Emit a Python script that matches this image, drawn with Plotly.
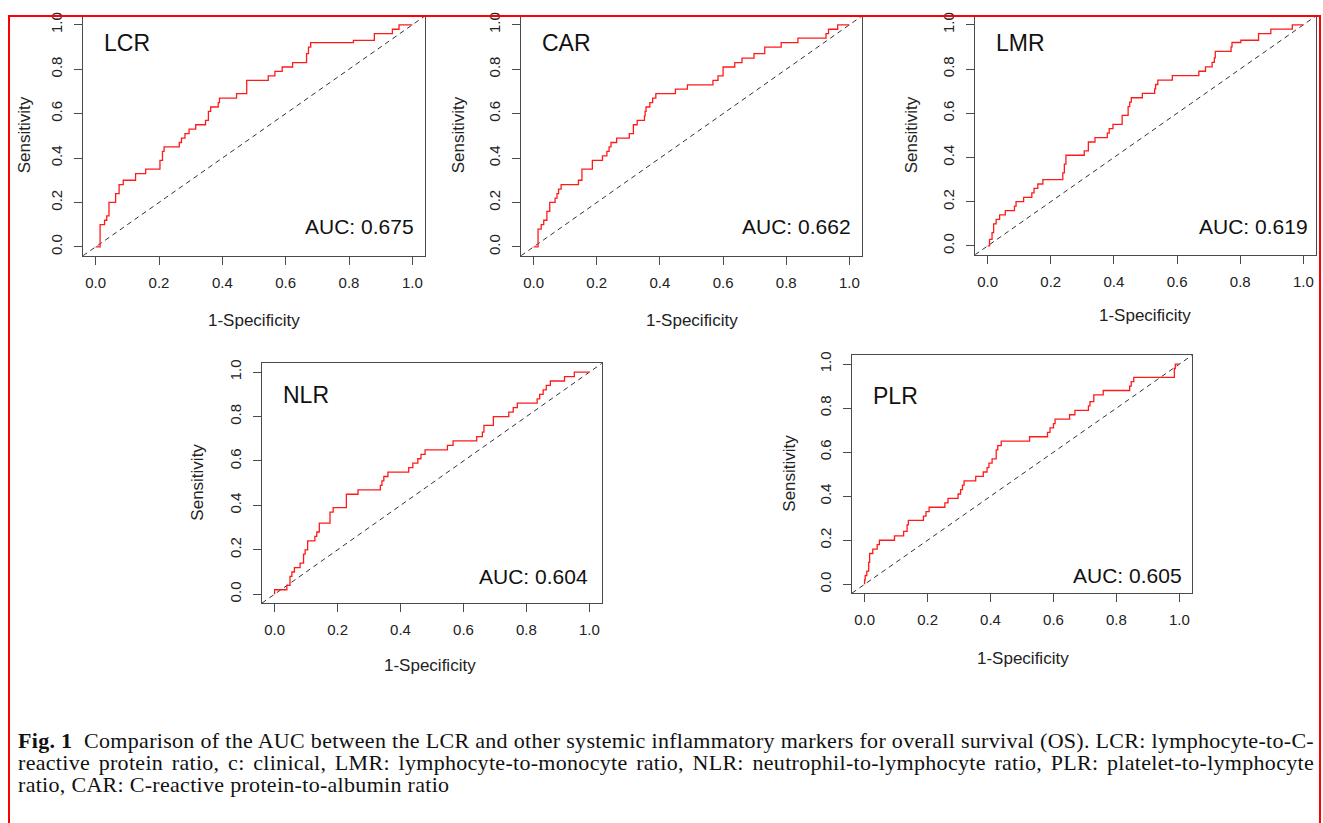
import plotly.graph_objects as go

W, H = 1323, 823

# ---------------- data ----------------
LCR_FPR = [0.0, 0.014, 0.028, 0.035, 0.042, 0.063, 0.074, 0.087, 0.126, 0.158, 0.203, 0.211, 0.216,
           0.264, 0.271, 0.282, 0.295, 0.316, 0.347, 0.356, 0.363, 0.387, 0.391, 0.445, 0.477, 0.545,
           0.566, 0.589, 0.622, 0.666, 0.672, 0.679, 0.814, 0.880, 0.937, 0.958, 1.0]
LCR_TPR = [0.0, 0.10, 0.12, 0.14, 0.20, 0.24, 0.28, 0.30, 0.33, 0.35, 0.39, 0.43, 0.45,
           0.47, 0.49, 0.51, 0.53, 0.55, 0.57, 0.61, 0.63, 0.65, 0.67, 0.69, 0.75, 0.77,
           0.79, 0.81, 0.83, 0.87, 0.90, 0.92, 0.93, 0.96, 0.98, 1.0, 1.0]

CAR_FPR = [0.0, 0.014, 0.024, 0.032, 0.042, 0.051, 0.068, 0.074, 0.079, 0.087, 0.142, 0.153, 0.186,
           0.218, 0.232, 0.239, 0.245, 0.263, 0.303, 0.316, 0.328, 0.351, 0.353, 0.356, 0.368, 0.377,
           0.387, 0.449, 0.487, 0.568, 0.584, 0.600, 0.637, 0.660, 0.698, 0.732, 0.784, 0.837, 0.926,
           0.934, 0.963, 1.0]
CAR_TPR = [0.0, 0.08, 0.10, 0.12, 0.16, 0.20, 0.22, 0.24, 0.26, 0.28, 0.30, 0.35, 0.39,
           0.41, 0.43, 0.45, 0.47, 0.49, 0.51, 0.55, 0.57, 0.59, 0.61, 0.63, 0.65, 0.67,
           0.69, 0.71, 0.73, 0.75, 0.77, 0.81, 0.83, 0.85, 0.87, 0.90, 0.92, 0.94, 0.96,
           0.98, 1.0, 1.0]

LMR_FPR = [0.0, 0.006, 0.014, 0.019, 0.027, 0.038, 0.056, 0.085, 0.090, 0.114, 0.140, 0.147, 0.159,
           0.175, 0.238, 0.243, 0.248, 0.306, 0.319, 0.340, 0.379, 0.385, 0.397, 0.426, 0.445, 0.450,
           0.455, 0.490, 0.529, 0.532, 0.539, 0.585, 0.669, 0.690, 0.711, 0.718, 0.721, 0.771, 0.774,
           0.802, 0.858, 0.897, 0.965, 1.0]
LMR_TPR = [0.0, 0.03, 0.06, 0.10, 0.12, 0.14, 0.16, 0.18, 0.20, 0.22, 0.24, 0.26, 0.28,
           0.30, 0.33, 0.37, 0.41, 0.43, 0.47, 0.49, 0.51, 0.53, 0.55, 0.59, 0.63, 0.65,
           0.67, 0.69, 0.71, 0.73, 0.75, 0.77, 0.79, 0.81, 0.83, 0.85, 0.88, 0.90, 0.92,
           0.93, 0.96, 0.98, 1.0, 1.0]

NLR_FPR = [0.0, 0.0, 0.039, 0.049, 0.055, 0.063, 0.081, 0.092, 0.097, 0.105, 0.128, 0.134, 0.142,
           0.176, 0.186, 0.228, 0.265, 0.336, 0.341, 0.347, 0.360, 0.426, 0.439, 0.455, 0.465,
           0.478, 0.549, 0.567, 0.642, 0.660, 0.665, 0.695, 0.744, 0.758, 0.771, 0.834, 0.842,
           0.853, 0.863, 0.876, 0.921, 0.952, 1.0]
NLR_TPR = [0.0, 0.02, 0.04, 0.08, 0.10, 0.12, 0.14, 0.18, 0.20, 0.24, 0.26, 0.28, 0.32,
           0.37, 0.39, 0.45, 0.47, 0.49, 0.51, 0.53, 0.55, 0.57, 0.59, 0.61, 0.63,
           0.65, 0.67, 0.69, 0.71, 0.73, 0.76, 0.80, 0.82, 0.84, 0.86, 0.88, 0.90,
           0.92, 0.94, 0.96, 0.98, 1.0, 1.0]

PLR_FPR = [0.0, 0.0, 0.002, 0.007, 0.013, 0.016, 0.026, 0.040, 0.047, 0.095, 0.124, 0.135, 0.139,
           0.187, 0.195, 0.205, 0.255, 0.265, 0.297, 0.305, 0.311, 0.316, 0.353, 0.377, 0.389,
           0.395, 0.405, 0.418, 0.423, 0.434, 0.524, 0.581, 0.589, 0.600, 0.605, 0.651, 0.668,
           0.711, 0.716, 0.728, 0.758, 0.842, 0.847, 0.855, 0.984, 0.987, 1.0]
PLR_TPR = [0.0, 0.02, 0.04, 0.06, 0.10, 0.14, 0.16, 0.18, 0.20, 0.22, 0.24, 0.27, 0.29,
           0.31, 0.33, 0.35, 0.37, 0.39, 0.41, 0.43, 0.45, 0.47, 0.49, 0.51, 0.53,
           0.55, 0.57, 0.61, 0.63, 0.65, 0.67, 0.69, 0.71, 0.73, 0.75, 0.77, 0.79,
           0.81, 0.83, 0.86, 0.88, 0.90, 0.92, 0.94, 0.98, 1.0, 1.0]

NAMES = ["LCR", "CAR", "LMR", "NLR", "PLR"]
AUC_VALUES = ["0.675", "0.662", "0.619", "0.604", "0.605"]
TICK_VALUES = [0.0, 0.2, 0.4, 0.6, 0.8, 1.0]
TICK_LABELS = ["0.0", "0.2", "0.4", "0.6", "0.8", "1.0"]
X_TITLE = "1-Specificity"
Y_TITLE = "Sensitivity"
CAPTION_BOLD = "Fig. 1"
CAPTION_LINES = [
    "Comparison of the AUC between the LCR and other systemic inflammatory markers for overall survival (OS). LCR: lymphocyte-to-C-",
    "reactive protein ratio, c: clinical, LMR: lymphocyte-to-monocyte ratio, NLR: neutrophil-to-lymphocyte ratio, PLR: platelet-to-lymphocyte",
    "ratio, CAR: C-reactive protein-to-albumin ratio",
]
CURVES = {"LCR": (LCR_FPR, LCR_TPR), "CAR": (CAR_FPR, CAR_TPR), "LMR": (LMR_FPR, LMR_TPR),
          "NLR": (NLR_FPR, NLR_TPR), "PLR": (PLR_FPR, PLR_TPR)}

# ---------------- layout (pixels) ----------------
AX_RANGE = [-0.04, 1.04]
# plot boxes: left, top, right, bottom (px)
BOXES = {"LCR": (83, 12, 425, 253), "CAR": (521, 12, 862, 253), "LMR": (975, 12, 1316, 252),
         "NLR": (262, 361, 602, 602), "PLR": (852, 353, 1192, 592)}
LABEL_Y = {"LCR": 0.916, "CAR": 0.916, "LMR": 0.916, "NLR": 0.896, "PLR": 0.856}
AUC_POS = {"LCR": (1.013, 0.090), "CAR": (1.013, 0.090), "LMR": (1.022, 0.090),
           "NLR": (1.003, 0.078), "PLR": (1.016, 0.038)}
XTITLE_POS = {"LCR": (254, 318), "CAR": (692, 318), "LMR": (1145, 313), "NLR": (430, 665), "PLR": (1023, 658)}
YTITLE_POS = {"LCR": (24, 132), "CAR": (458, 132), "LMR": (911, 132), "NLR": (198, 481), "PLR": (790, 472)}
CAP_LEFT, CAP_RIGHT = 18, 1314
CAP_Y = [740, 762, 784]


def fx(p):
    return p / W


def fy(p):
    return 1 - p / H


SANS = "Liberation Sans, Arial, sans-serif"
SERIF = "Liberation Serif, Times New Roman, serif"
AXCOL = "#4a4a4a"

fig = go.Figure()
annotations = []

for i, name in enumerate(NAMES, start=1):
    fpr, tpr = CURVES[name]
    xa = "x" if i == 1 else f"x{i}"
    ya = "y" if i == 1 else f"y{i}"
    # diagonal reference line (y = x) across the whole box
    fig.add_trace(go.Scatter(x=AX_RANGE, y=AX_RANGE, mode="lines", xaxis=xa, yaxis=ya,
                             line=dict(color="#333333", width=1, dash="5px,4px"),
                             hoverinfo="skip", showlegend=False))
    fig.add_trace(go.Scatter(x=fpr, y=tpr, mode="lines", xaxis=xa, yaxis=ya, line_shape="hv",
                             line=dict(color="#ff1a1a", width=1.3), showlegend=False, name=name))
    l, t, r, b = BOXES[name]
    common = dict(range=AX_RANGE, showgrid=False, zeroline=False, showline=True, mirror=True,
                  linecolor=AXCOL, linewidth=1, ticks="outside", ticklen=8, tickcolor=AXCOL,
                  tickwidth=1, tickvals=TICK_VALUES, ticktext=TICK_LABELS,
                  tickfont=dict(family=SANS, size=15, color="#222222"), fixedrange=True)
    fig.update_layout(**{
        ("xaxis" if i == 1 else f"xaxis{i}"): dict(domain=[fx(l), fx(r)], anchor=ya,
                                                   ticklabelstandoff=5, **common),
        ("yaxis" if i == 1 else f"yaxis{i}"): dict(domain=[fy(b), fy(t)], anchor=xa, tickangle=-90,
                                                   ticklabelstandoff=6, **common),
    })
    annotations.append(dict(x=0.02, y=LABEL_Y[name], xref=xa, yref=ya, text=name, showarrow=False,
                            xanchor="left", yanchor="middle",
                            font=dict(family=SANS, size=23, color="#111111")))
    ax_, ay_ = AUC_POS[name]
    annotations.append(dict(x=ax_, y=ay_, xref=xa, yref=ya, text=f"AUC: {AUC_VALUES[i-1]}",
                            showarrow=False, xanchor="right", yanchor="middle",
                            font=dict(family=SANS, size=21, color="#111111")))
    tx, ty = XTITLE_POS[name]
    annotations.append(dict(x=fx(tx), y=fy(ty), xref="paper", yref="paper", text=X_TITLE,
                            showarrow=False, xanchor="center", yanchor="middle",
                            font=dict(family=SANS, size=17, color="#222222")))
    sx, sy = YTITLE_POS[name]
    annotations.append(dict(x=fx(sx), y=fy(sy), xref="paper", yref="paper", text=Y_TITLE,
                            showarrow=False, xanchor="center", yanchor="middle", textangle=-90,
                            font=dict(family=SANS, size=17, color="#222222")))

# caption (three lines; the first two are justified in the browser below)
cap_texts = [f"<b>{CAPTION_BOLD}</b>  " + CAPTION_LINES[0], CAPTION_LINES[1], CAPTION_LINES[2]]
for txt, cy in zip(cap_texts, CAP_Y):
    annotations.append(dict(x=fx(CAP_LEFT), y=fy(cy), xref="paper", yref="paper", text=txt,
                            showarrow=False, xanchor="left", yanchor="middle",
                            font=dict(family=SERIF, size=22, color="#111111")))

fig.update_layout(
    width=W, height=H, margin=dict(l=0, r=0, t=0, b=0),
    paper_bgcolor="white", plot_bgcolor="white",
    annotations=annotations,
    shapes=[dict(type="rect", xref="paper", yref="paper", x0=fx(9), x1=fx(1320), y0=fy(H + 10),
                 y1=fy(12), line=dict(color="#ff0000", width=2), layer="above")],
)

POST = """
document.body.style.margin='0';
document.body.style.overflow='hidden';
var gd=document.getElementById('{plot_id}');
var texts=gd.querySelectorAll('g.annotation text.annotation-text');
var n=texts.length;
var L=%d, R=%d;
[texts[n-3],texts[n-2],texts[n-1]].forEach(function(el,k){
  el.style.letterSpacing='0.3px';
  if(k<2){
    var w=el.getBoundingClientRect().width;
    var s=(el.textContent.match(/[ \\u00a0]/g)||[]).length;
    if(s>0){ el.style.wordSpacing=((R-L-w)/s)+'px'; }
  }
  var r=el.getBoundingClientRect();
  var dx=L-r.left;
  var tr=el.getAttribute('transform')||'';
  el.setAttribute('transform', tr+' translate('+dx+',0)');
});
""" % (CAP_LEFT, CAP_RIGHT)

fig.write_html("out.html", post_script=POST, config={"displayModeBar": False})
